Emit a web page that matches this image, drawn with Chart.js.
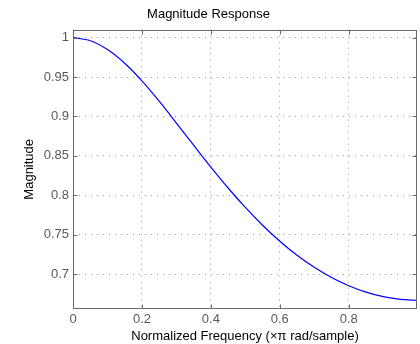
<!DOCTYPE html>
<html>
<head>
<meta charset="utf-8">
<script src="https://cdn.jsdelivr.net/npm/chart.js@4/dist/chart.umd.min.js"></script>
<style>
  html, body { margin: 0; padding: 0; background: #ffffff; }
  #wrap { width: 420px; height: 344px; }
</style>
</head>
<body>
<div id="wrap"><canvas id="c" width="420" height="344"></canvas></div>
<script>
// Normalized frequency (x pi rad/sample)
const freq = [0, 0.05, 0.1, 0.15, 0.2, 0.25, 0.3, 0.35, 0.4, 0.45, 0.5,
              0.55, 0.6, 0.65, 0.7, 0.75, 0.8, 0.85, 0.9, 0.95, 0.998];
// Magnitude
const magnitude = [1.0000, 0.9962, 0.9850, 0.9676, 0.9452, 0.9194, 0.8917, 0.8635, 0.8357, 0.8092, 0.7845,
                   0.7619, 0.7416, 0.7238, 0.7085, 0.6956, 0.6851, 0.6770, 0.6712, 0.6678, 0.6667];
const xTicks = [0, 0.2, 0.4, 0.6, 0.8];
const yTicks = [0.7, 0.75, 0.8, 0.85, 0.9, 0.95, 1];
const xRange = [0, 0.998];
const yRange = [0.6556, 1.0103];

const FONT = '"Liberation Sans", Arial, Helvetica, sans-serif';
const AXIS_COLOR = '#6a6a6a';

const boxPlugin = {
  id: 'matlabBox',
  afterDatasetsDraw(chart) {
    const {ctx, chartArea: a, scales} = chart;
    const L = Math.round(a.left) + 0.5, R = Math.round(a.right) - 0.5;
    const T = Math.round(a.top) + 0.5, B = Math.round(a.bottom) - 0.5;
    ctx.save();
    ctx.strokeStyle = AXIS_COLOR;
    ctx.lineWidth = 1;
    ctx.setLineDash([]);
    ctx.beginPath();
    const tl = 4;
    scales.x.ticks.forEach(t => {
      const px = Math.round(scales.x.getPixelForValue(t.value)) + 0.5;
      ctx.moveTo(px, B); ctx.lineTo(px, B - tl);
      ctx.moveTo(px, T); ctx.lineTo(px, T + tl);
    });
    scales.y.ticks.forEach(t => {
      const py = Math.round(scales.y.getPixelForValue(t.value)) + 0.5;
      ctx.moveTo(L, py); ctx.lineTo(L + tl, py);
      ctx.moveTo(R, py); ctx.lineTo(R - tl, py);
    });
    ctx.stroke();
    ctx.strokeRect(L, T, R - L, B - T);
    ctx.restore();
  }
};

new Chart(document.getElementById('c'), {
  type: 'line',
  data: {
    datasets: [{
      data: freq.map((f, i) => ({x: f, y: magnitude[i]})),
      borderColor: '#0000ff',
      borderWidth: 1.2,
      pointRadius: 0,
      fill: false,
      cubicInterpolationMode: 'monotone'
    }]
  },
  options: {
    responsive: false,
    animation: false,
    events: [],
    layout: { padding: { left: 0, right: 3, top: 0, bottom: 0 } },
    plugins: {
      legend: { display: false },
      tooltip: { enabled: false },
      title: {
        display: true,
        text: 'Magnitude Response',
        color: '#000000',
        font: { family: FONT, size: 13, weight: 'normal' },
        padding: { top: 7, bottom: 7 }
      }
    },
    scales: {
      x: {
        type: 'linear',
        min: xRange[0],
        max: xRange[1],
        afterBuildTicks: s => { s.ticks = xTicks.map(v => ({value: v})); },
        afterFit: s => { s.height = 35; },
        ticks: {
          color: '#5a5a5a',
          font: { family: FONT, size: 13 },
          padding: 3,
          maxRotation: 0,
          autoSkip: false,
          callback: v => String(v)
        },
        grid: { color: '#9a9a9a', lineWidth: 1, drawTicks: false },
        border: { display: false, dash: [1, 5] },
        title: {
          display: true,
          text: 'Normalized Frequency (\u00d7\u03c0 rad/sample)',
          color: '#000000',
          font: { family: FONT, size: 13 },
          padding: { top: 0, bottom: 0 }
        }
      },
      y: {
        type: 'linear',
        min: yRange[0],
        max: yRange[1],
        afterBuildTicks: s => { s.ticks = yTicks.map(v => ({value: v})); },
        afterFit: s => { s.width = 73; },
        ticks: {
          color: '#5a5a5a',
          font: { family: FONT, size: 13 },
          padding: 4,
          autoSkip: false,
          callback: v => String(v)
        },
        grid: { color: '#9a9a9a', lineWidth: 1, drawTicks: false },
        border: { display: false, dash: [1, 5] },
        title: {
          display: true,
          text: 'Magnitude',
          color: '#000000',
          font: { family: FONT, size: 13 },
          padding: { top: 22, bottom: 0 }
        }
      }
    }
  },
  plugins: [boxPlugin]
});
</script>
</body>
</html>
